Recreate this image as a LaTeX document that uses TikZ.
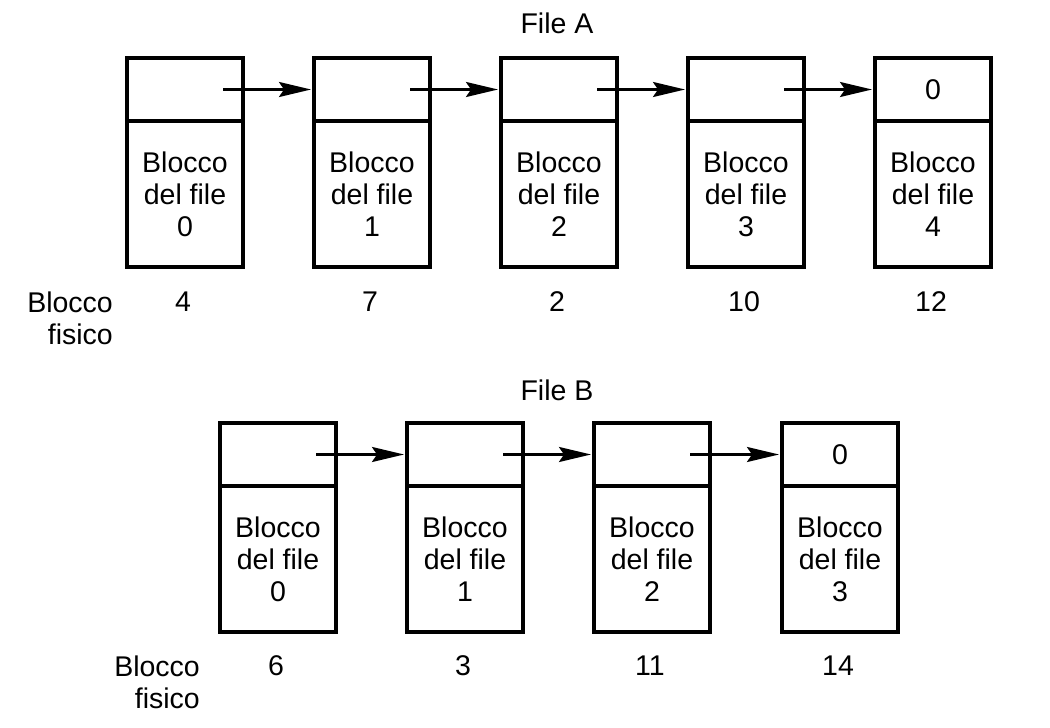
\documentclass[tikz,border=0pt]{standalone}
\usepackage{fontspec}
\setmainfont{Liberation Sans}
\usetikzlibrary{arrows.meta}
\begin{document}
\begin{tikzpicture}[x=1pt,y=-1pt,
  every node/.style={font=\fontsize{28.5}{32}\selectfont, inner sep=0pt},
  ptrbox/.style={draw, line width=4pt, minimum width=116pt, minimum height=63pt, anchor=north west},
  databox/.style={draw, line width=4pt, minimum width=116pt, minimum height=146pt, anchor=north west, align=center},
  lbl/.style={align=right, anchor=east},
  arr/.style={line width=2.5pt, -{Stealth[length=32pt,width=15pt,inset=5pt]}, shorten >=1pt}
]
\useasboundingbox (0,0) rectangle (1050,728);

% File A
\node (titleA) at (557,23) {File A};
\foreach \i/\x/\p in {0/125/4, 1/312/7, 2/499/2, 3/686/10, 4/873/12} {
  \node[ptrbox] (at\i) at (\x,56) {};
  \node[databox] (ad\i) at (\x,119) {Blocco\\del file\\\i};
  \node (ap\i) at (\x+58,302) {\p};
}
\node at (at4.center) {0};
\foreach \i/\j in {0/1,1/2,2/3,3/4} {
  \draw[arr] ([xshift=38pt]at\i.center) -- (at\j.west);
}
\node[lbl] (lblA) at (113,318) {Blocco\\fisico};

% File B
\node (titleB) at (557,390) {File B};
\foreach \i/\x/\p in {0/218/6, 1/405/3, 2/592/11, 3/780/14} {
  \node[ptrbox] (bt\i) at (\x,421) {};
  \node[databox] (bd\i) at (\x,484) {Blocco\\del file\\\i};
  \node (bp\i) at (\x+58,666) {\p};
}
\node at (bt3.center) {0};
\foreach \i/\j in {0/1,1/2,2/3} {
  \draw[arr] ([xshift=38pt]bt\i.center) -- (bt\j.west);
}
\node[lbl] (lblB) at (200,682) {Blocco\\fisico};
\end{tikzpicture}
\end{document}
